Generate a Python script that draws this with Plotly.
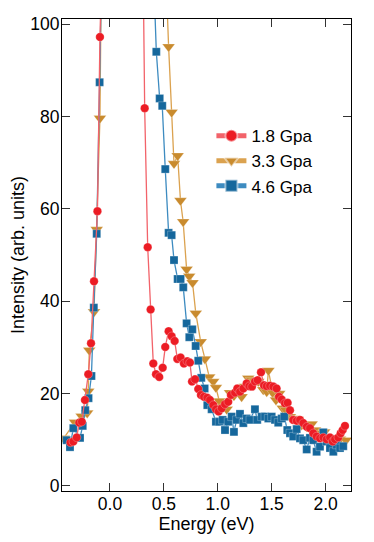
import plotly.graph_objects as go

# ---- data ----
red_x = [-0.366, -0.340, -0.309, -0.285, -0.261, -0.232, -0.201, -0.176, -0.148, -0.116, -0.093,
         -0.02, 0.285,
         0.322, 0.350, 0.377, 0.402, 0.427, 0.457, 0.489, 0.513, 0.544, 0.572, 0.600, 0.625, 0.655,
         0.686, 0.717, 0.742, 0.761, 0.789, 0.819, 0.844, 0.872, 0.903, 0.928, 0.958, 0.983, 1.008,
         1.036, 1.067, 1.097, 1.122, 1.160, 1.181, 1.206, 1.237, 1.268, 1.292, 1.317, 1.345, 1.370,
         1.401, 1.429, 1.454, 1.484, 1.515, 1.546, 1.568, 1.593, 1.623, 1.648, 1.670, 1.700, 1.732,
         1.763, 1.793, 1.825, 1.855, 1.886, 1.917, 1.948, 1.979, 2.010, 2.041, 2.066, 2.087, 2.118,
         2.140, 2.159, 2.180]
red_y = [9.4, 9.6, 10.5, 13.7, 13.9, 18.6, 24.2, 30.9, 44.3, 59.5, 97.2,
         160, 160,
         81.8, 51.7, 38.2, 26.5, 24.2, 23.6, 25.6, 30.1, 33.5, 32.4, 31.4, 27.5, 27.8,
         26.5, 27.0, 26.7, 22.6, 23.1, 21.0, 19.7, 19.3, 19.1, 18.6, 17.5, 16.6, 16.1,
         16.8, 17.7, 18.2, 19.7, 20.2, 21.1, 20.4, 21.1, 22.2, 21.6, 21.5, 22.6, 22.9,
         24.6, 21.8, 21.6, 21.7, 21.5, 21.1, 19.3, 18.7, 17.9, 18.0, 16.4, 14.3, 14.1,
         14.3, 13.6, 12.8, 12.5, 11.4, 10.7, 10.3, 10.5, 10.1, 10.5, 9.6, 10.1, 10.5,
         11.4, 12.1, 13.0]

gold_x = [-0.430, -0.325, -0.263, -0.211, -0.201, -0.192, -0.148, -0.123, -0.093,
          -0.06, 0.44,
          0.544, 0.572, 0.594, 0.628, 0.654, 0.679, 0.711, 0.735, 0.766, 0.796, 0.842, 0.881,
          0.921, 0.958, 0.983, 1.014, 1.051, 1.083, 1.113, 1.150, 1.190, 1.221, 1.252, 1.283,
          1.314, 1.345, 1.376, 1.422, 1.454, 1.470, 1.509, 1.540, 1.570, 1.602, 1.633, 1.670,
          1.707, 1.741, 1.778, 1.825, 1.871, 1.902, 1.948, 1.988, 2.041, 2.087, 2.134, 2.189]
gold_y = [10.3, 13.8, 15.1, 15.8, 20.5, 29.4, 37.7, 55.5, 79.6,
          160, 160,
          95.1, 80.9, 69.8, 71.5, 61.8, 57.2, 46.9, 45.4, 44.0, 37.4, 31.2, 27.5,
          23.6, 22.6, 21.3, 18.4, 17.1, 16.6, 20.2, 19.5, 20.4, 19.3, 21.5, 23.3,
          22.9, 22.6, 22.6, 20.8, 20.4, 25.0, 20.2, 18.6, 20.0, 16.8, 16.4, 15.0,
          14.6, 14.4, 13.2, 12.8, 13.4, 12.1, 11.4, 11.7, 9.9, 10.3, 10.1, 9.9]

blue_x = [-0.402, -0.371, -0.340, -0.278, -0.253, -0.229, -0.199, -0.172, -0.150, -0.123, -0.096,
          -0.04, 0.33,
          0.430, 0.461, 0.485, 0.513, 0.544, 0.572, 0.594, 0.628, 0.655, 0.680, 0.711, 0.736,
          0.764, 0.795, 0.819, 0.847, 0.878, 0.903, 0.943, 0.983, 1.014, 1.045, 1.067, 1.097,
          1.129, 1.150, 1.175, 1.206, 1.237, 1.268, 1.299, 1.345, 1.366, 1.407, 1.438, 1.469,
          1.500, 1.531, 1.561, 1.593, 1.617, 1.645, 1.670, 1.700, 1.732, 1.763, 1.793, 1.825,
          1.855, 1.886, 1.917, 1.948, 1.979, 2.010, 2.041, 2.072, 2.103, 2.134, 2.164]
blue_y = [9.9, 8.4, 12.5, 10.4, 13.0, 16.4, 19.0, 23.8, 38.6, 54.6, 87.4,
          160, 160,
          94.0, 83.9, 82.3, 68.6, 54.8, 54.3, 48.9, 44.8, 44.8, 43.0, 35.2, 32.2,
          33.9, 30.3, 27.1, 23.4, 21.1, 17.5, 16.6, 13.9, 13.9, 14.3, 12.1, 13.9,
          15.0, 11.7, 14.3, 15.6, 13.6, 14.6, 14.3, 16.6, 14.3, 15.0, 15.0, 14.6,
          15.0, 14.3, 13.7, 14.6, 15.0, 12.1, 11.4, 10.7, 12.3, 10.3, 9.9, 7.9,
          10.4, 9.9, 7.4, 8.5, 11.6, 9.6, 8.2, 7.4, 8.9, 8.2, 8.6]

x_ticks = [0.0, 0.5, 1.0, 1.5, 2.0]
x_tick_labels = ["0.0", "0.5", "1.0", "1.5", "2.0"]
y_ticks = [0, 20, 40, 60, 80, 100]

FONT = "Liberation Sans, Arial, Helvetica, sans-serif"

fig = go.Figure()
fig.add_trace(go.Scatter(
    x=gold_x, y=gold_y, mode="lines+markers", name="3.3 Gpa", legendrank=2,
    line=dict(color="#DBA24F", width=1.3),
    marker=dict(symbol="triangle-down", size=11, color="#C98B2E",
                line=dict(color="rgba(255,255,255,0.5)", width=0.5)),
))
fig.add_trace(go.Scatter(
    x=blue_x, y=blue_y, mode="lines+markers", name="4.6 Gpa", legendrank=3,
    line=dict(color="#3D8BC0", width=1.3),
    marker=dict(symbol="square", size=8, color="#15679C",
                line=dict(color="rgba(255,255,255,0.5)", width=0.5)),
))
fig.add_trace(go.Scatter(
    x=red_x, y=red_y, mode="lines+markers", name="1.8 Gpa", legendrank=1,
    line=dict(color="#F2636A", width=1.3),
    marker=dict(symbol="circle", size=8.5, color="#EC1C24",
                line=dict(color="rgba(255,255,255,0.5)", width=0.5)),
))

axis_common = dict(
    showline=True, linecolor="black", linewidth=1, mirror="ticks",
    ticks="inside", ticklen=8, tickwidth=1, tickcolor="#333333",
    showgrid=False, zeroline=False, automargin=False,
    tickfont=dict(family=FONT, size=17.5, color="black"),
)

fig.update_layout(
    width=374, height=542,
    margin=dict(l=62, r=23, t=19, b=51),
    paper_bgcolor="white", plot_bgcolor="white",
    font=dict(family=FONT, size=17, color="black"),
    xaxis=dict(range=[-0.445, 2.236], tickvals=x_ticks, ticktext=x_tick_labels,
               ticklabelstandoff=-3,
               title=dict(text="Energy (eV)", font=dict(family=FONT, size=18), standoff=0),
               **axis_common),
    yaxis=dict(range=[-1.1, 101.1], tickvals=y_ticks, ticklabelstandoff=-2,
               title=dict(text="Intensity (arb. units)", font=dict(family=FONT, size=18), standoff=0),
               **axis_common),
    showlegend=True,
    legend=dict(x=0.517, y=0.79, xanchor="left", yanchor="top",
                bgcolor="rgba(0,0,0,0)", font=dict(family=FONT, size=17),
                tracegroupgap=0, itemsizing="constant"),
)

fig.write_html("out.html", config={"displayModeBar": False},
               post_script="document.body.style.margin='0';document.body.style.padding='0';")
